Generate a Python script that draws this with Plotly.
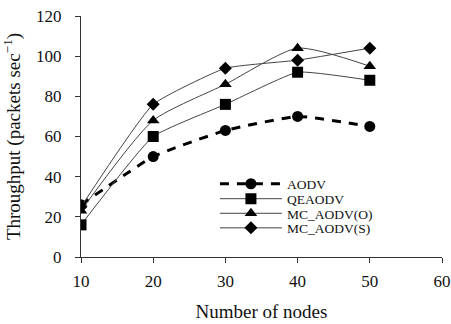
import plotly.graph_objects as go

nodes = [10, 20, 30, 40, 50]
aodv = [26, 50, 63, 70, 65]
qeaodv = [16, 60, 76, 92, 88]
mc_o = [23, 68, 86, 104, 95]
mc_s = [25, 76, 94, 98, 104]

x_ticks = [10, 20, 30, 40, 50, 60]
y_ticks = [0, 20, 40, 60, 80, 100, 120]

FONT = "Liberation Serif, Times New Roman, serif"
TXT = "#111"

fig = go.Figure()
fig.add_trace(go.Scatter(x=nodes, y=aodv, name="AODV", mode="lines+markers", legend="legend",
                         line=dict(color="black", width=3, dash="9px,8px", shape="spline", smoothing=0.4),
                         marker=dict(symbol="circle", size=11, color="black")))
fig.add_trace(go.Scatter(x=nodes, y=qeaodv, name="QEAODV", mode="lines+markers", legend="legend2",
                         line=dict(color="#444", width=1, shape="spline", smoothing=0.4),
                         marker=dict(symbol="square", size=11, color="black")))
fig.add_trace(go.Scatter(x=nodes, y=mc_o, name="MC_AODV(O)", mode="lines+markers", legend="legend3",
                         line=dict(color="#444", width=1, shape="spline", smoothing=0.6),
                         marker=dict(symbol="triangle-up", size=11, color="black")))
fig.add_trace(go.Scatter(x=nodes, y=mc_s, name="MC_AODV(S)", mode="lines+markers", legend="legend4",
                         line=dict(color="#444", width=1, shape="spline", smoothing=0.4),
                         marker=dict(symbol="diamond", size=10, color="black")))

leg_common = dict(x=0.371, xanchor="left", yanchor="middle", bgcolor="rgba(0,0,0,0)",
                  font=dict(family=FONT, size=13.5, color=TXT), itemwidth=62)

fig.update_layout(
    width=451, height=324,
    margin=dict(l=81, r=9, t=16, b=67),
    paper_bgcolor="white", plot_bgcolor="white",
    font=dict(family=FONT, size=15.5, color=TXT),
    showlegend=True,
    legend=dict(y=0.303, **leg_common),
    legend2=dict(y=0.241, **leg_common),
    legend3=dict(y=0.1805, **leg_common),
    legend4=dict(y=0.120, **leg_common),
    xaxis=dict(range=[10, 60], tickvals=x_ticks, ticks="outside", ticklen=5,
               showline=True, linecolor="#333", linewidth=1, tickcolor="#333",
               showgrid=False, zeroline=False, automargin=False,
               tickfont=dict(size=17), ticklabelstandoff=4, ticklabeloverflow="allow",
               title=dict(text="Number of nodes", standoff=14)),
    yaxis=dict(range=[0, 120], tickvals=y_ticks, ticks="outside", ticklen=5,
               showline=True, linecolor="#333", linewidth=1, tickcolor="#333",
               showgrid=False, zeroline=False, automargin=False,
               tickfont=dict(size=17), ticklabelstandoff=10,
               title=dict(text="Throughput (packets sec<sup>−1</sup>)", standoff=14)),
)

# remove the page's default body margin so the figure sits at the window's top-left corner
fig.write_html("out.html",
               config={"displayModeBar": False},
               post_script="document.body.style.margin='0';document.body.style.overflow='hidden';")
